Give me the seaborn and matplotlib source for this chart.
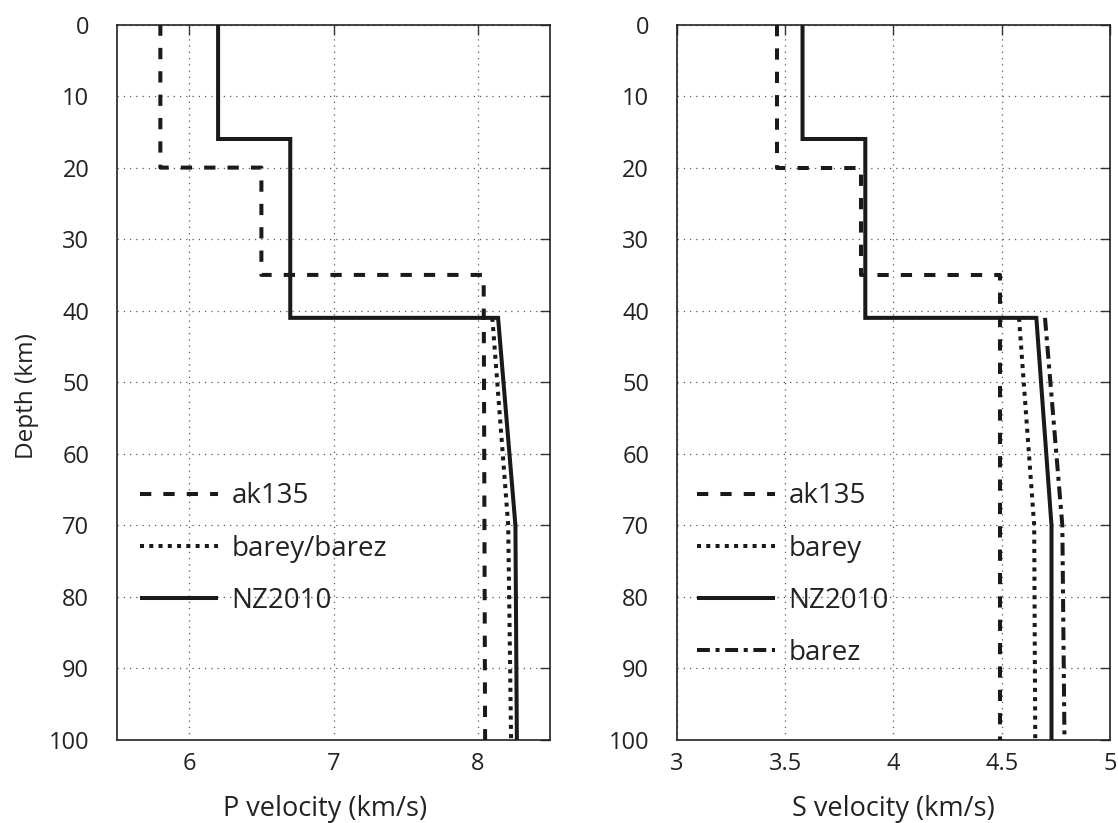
import numpy as np
import pandas as pd
import matplotlib
matplotlib.use("Agg")
import matplotlib.pyplot as plt
import seaborn as sns

# ---- data ----
# P velocity profiles
ak135_p_vel   = [5.80, 5.80, 6.50, 6.50, 8.04, 8.05]
ak135_p_depth = [0, 20, 20, 35, 35, 100]
nz_p_vel      = [6.20, 6.20, 6.70, 6.70, 8.14, 8.26, 8.27]
nz_p_depth    = [0, 16, 16, 41, 41, 70, 100]
bar_p_vel     = [8.10, 8.21, 8.23]
bar_p_depth   = [41, 70, 100]

# S velocity profiles
ak135_s_vel   = [3.46, 3.46, 3.85, 3.85, 4.49, 4.49]
ak135_s_depth = [0, 20, 20, 35, 35, 100]
nz_s_vel      = [3.58, 3.58, 3.87, 3.87, 4.66, 4.73, 4.73]
nz_s_depth    = [0, 16, 16, 41, 41, 70, 100]
barey_s_vel   = [4.58, 4.65, 4.655]
barey_s_depth = [41, 70, 100]
barez_s_vel   = [4.70, 4.78, 4.79]
barez_s_depth = [41, 70, 100]

p_xticks = [6, 7, 8]
s_xticks = [3, 3.5, 4, 4.5, 5]
s_xticklabels = ["3", "3.5", "4", "4.5", "5"]
depth_ticks = list(range(0, 101, 10))

sns.set_theme(style="white")
plt.rcParams['font.family'] = ['Open Sans', 'DejaVu Sans']

fig = plt.figure(figsize=(11.18, 8.23), dpi=100)
axL = fig.add_axes([0.1047, 0.1009, 0.3873, 0.8693])
axR = fig.add_axes([0.6055, 0.1009, 0.3873, 0.8693])

LW = 2.9
DASH = (2.8, 3.0)
DOT = (1.0, 1.3)
DASHDOT = (3.2, 1.4, 1.0, 1.4)
col = "#1a1a1a"
tcol = "#222222"

def draw(ax, vel, depth, label, ls, z):
    df = pd.DataFrame({"v": vel, "d": depth})
    sns.lineplot(data=df, x="v", y="d", ax=ax, sort=False, estimator=None,
                 color=col, lw=LW, label=label, zorder=z)
    line = ax.get_lines()[-1]
    if ls is None:
        line.set_linestyle("-")
    else:
        line.set_dashes(ls)
    line.set_dash_capstyle("butt")
    line.set_solid_capstyle("butt")
    line.set_solid_joinstyle("miter")

draw(axL, ak135_p_vel, ak135_p_depth, "ak135", DASH, 3)
draw(axL, bar_p_vel, bar_p_depth, "barey/barez", DOT, 3)
draw(axL, nz_p_vel, nz_p_depth, "NZ2010", None, 4)

draw(axR, ak135_s_vel, ak135_s_depth, "ak135", DASH, 3)
draw(axR, barey_s_vel, barey_s_depth, "barey", DOT, 3)
draw(axR, nz_s_vel, nz_s_depth, "NZ2010", None, 4)
draw(axR, barez_s_vel, barez_s_depth, "barez", DASHDOT, 3)

for ax, lx in ((axL, -0.005), (axR, -0.012)):
    ax.set_ylim(100, 0)
    ax.set_yticks(depth_ticks)
    ax.grid(True, color="0.35", linestyle=(0, (1, 4)), lw=0.9)
    ax.tick_params(direction="in", length=7, width=1, top=True, right=True,
                   labelsize=17, color="0.2", labelcolor=tcol)
    ax.tick_params(axis="y", pad=20)
    ax.tick_params(axis="x", pad=9)
    for s in ax.spines.values():
        s.set_color(tcol)
        s.set_linewidth(1.2)
    leg = ax.legend(loc="upper left", bbox_to_anchor=(lx, 0.395), frameon=False,
                    fontsize=20, handlelength=2.8, handletextpad=0.5,
                    labelspacing=0.87, borderaxespad=0.5)
    for t in leg.get_texts():
        t.set_color(tcol)

axL.set_xlim(5.5, 8.5)
axL.set_xticks(p_xticks)
axL.set_xticklabels([str(v) for v in p_xticks])
axL.set_xlabel("P velocity (km/s)", fontsize=19.5, color=tcol)
axL.xaxis.set_label_coords(0.48, -0.077)
axL.set_ylabel("Depth (km)", fontsize=17.5, color=tcol)
axL.yaxis.set_label_coords(-0.18, 0.481)

axR.set_xlim(3, 5)
axR.set_xticks(s_xticks)
axR.set_xticklabels(s_xticklabels)
axR.set_xlabel("S velocity (km/s)", fontsize=19.5, color=tcol)
axR.xaxis.set_label_coords(0.5, -0.077)
axR.set_ylabel("")

fig.savefig("out.png", dpi=100)
